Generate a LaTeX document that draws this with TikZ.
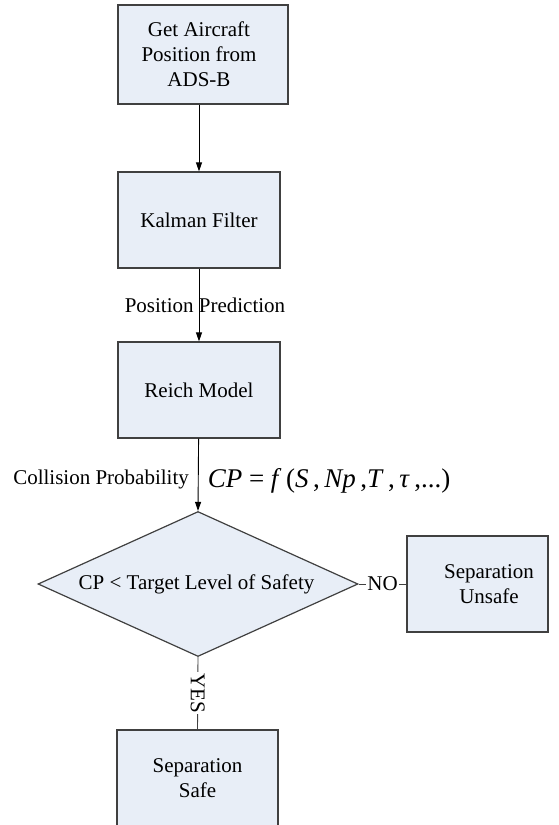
\documentclass[tikz,border=0pt]{standalone}
\usepackage{fontspec}
\setmainfont{Liberation Serif}
\usetikzlibrary{arrows.meta,shapes.geometric}
\definecolor{boxfill}{RGB}{232,238,247}
\definecolor{boxline}{RGB}{64,64,64}
\begin{document}
\begin{tikzpicture}[x=1pt,y=-1pt,
  font=\fontsize{21}{25}\selectfont,
  box/.style={draw=boxline,fill=boxfill,line width=1.2pt,inner sep=0pt,align=center},
  decision/.style={diamond,draw=boxline,fill=boxfill,line width=1.2pt,inner sep=0pt,
    aspect=2.2,minimum width=320pt,minimum height=145pt},
  txt/.style={inner sep=0pt,align=center},
  flow/.style={line width=0.9pt,-{Triangle[length=9pt,width=6pt]}},
  plain/.style={line width=0.9pt,draw=boxline}]
\useasboundingbox (0,0) rectangle (558,825);

% process boxes
\node[box,minimum width=170pt,minimum height=99pt] (src) at (203,54.5) {};
\node[txt] (srctxt) at (199,54.5) {Get Aircraft\\Position from\\ADS-B};
\node[box,minimum width=162pt,minimum height=96pt] (kal) at (199,220) {Kalman Filter};
\node[box,minimum width=162pt,minimum height=96pt] (reich) at (199,390) {Reich Model};

% decision
\node[decision] (test) at (198,584) {};
\node[txt] (testtxt) at (196.5,584) {CP < Target Level of Safety};

% outcomes
\node[box,minimum width=141pt,minimum height=96pt] (unsafe) at (477.5,584) {};
\node[txt] (unsafetxt) at (489,584) {Separation\\Unsafe};
\node[box,minimum width=161pt,minimum height=96pt] (safe) at (197.5,778) {Separation\\Safe};

% connectors
\draw[flow] (kal.north |- src.south) -- (kal.north);
\draw[flow] (kal) -- (reich)
  node[midway,txt,xshift=6pt] (predlbl) {Position Prediction};
\draw[flow] (reich) -- (test.north)
  node[midway,txt,anchor=east,xshift=-9pt,yshift=-5pt] (cplbl) {Collision Probability}
  node[midway,txt,anchor=west,xshift=9pt,yshift=-6pt,font=\fontsize{27}{30}\selectfont] (cpeq)
  {\textit{CP} = \textit{f}\,(\textit{S}\,,\,\textit{Np}\,,\textit{T}\,,\,\textit{τ}\,,...)};
\draw[plain] (test.east) -- (unsafe.west)
  node[midway,txt,fill=white,inner xsep=1pt] (nolbl) {NO};
\draw[plain] (test.south) -- (safe.north)
  node[midway,txt,fill=white,inner xsep=1pt,rotate=-90] (yeslbl) {YES};
\end{tikzpicture}
\end{document}
